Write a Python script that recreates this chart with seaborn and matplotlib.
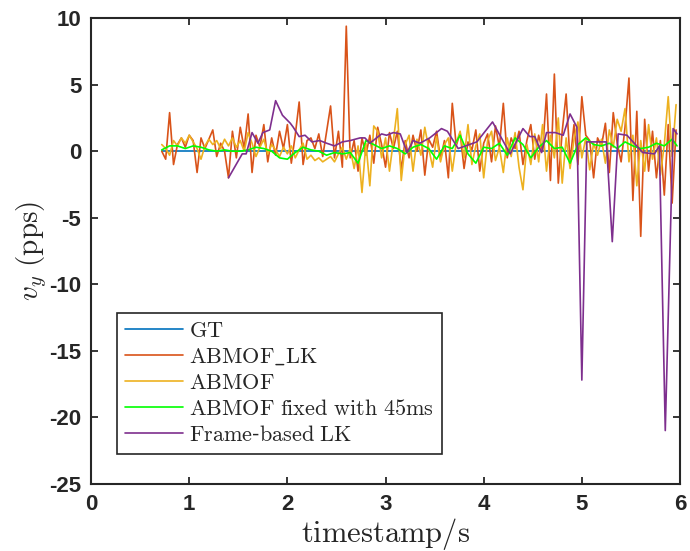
import matplotlib
matplotlib.use("Agg")
import matplotlib.pyplot as plt
import seaborn as sns
import pandas as pd

# ---------------- data ----------------
gt_t = [0.72, 5.97]
gt_v = [0.0, 0.0]

t_fast = [0.72, 0.76, 0.80, 0.84, 0.88, 0.92, 0.96, 1.00, 1.04, 1.08, 1.12, 1.16,
          1.20, 1.24, 1.28, 1.32, 1.36, 1.40, 1.44, 1.48, 1.52, 1.56, 1.60, 1.64,
          1.68, 1.72, 1.76, 1.80, 1.84, 1.88, 1.92, 1.96, 2.00, 2.04, 2.08, 2.12,
          2.16, 2.20, 2.24, 2.28, 2.32, 2.36, 2.40, 2.44, 2.48, 2.52, 2.56, 2.60,
          2.64, 2.68, 2.72, 2.76, 2.80, 2.84, 2.88, 2.92, 2.96, 3.00, 3.04, 3.08,
          3.12, 3.16, 3.20, 3.24, 3.28, 3.32, 3.36, 3.40, 3.44, 3.48, 3.52, 3.56,
          3.60, 3.64, 3.68, 3.72, 3.76, 3.80, 3.84, 3.88, 3.92, 3.96, 4.00, 4.04,
          4.08, 4.12, 4.16, 4.20, 4.24, 4.28, 4.32, 4.36, 4.40, 4.44, 4.48, 4.52,
          4.56, 4.60, 4.64, 4.68, 4.72, 4.76, 4.80, 4.84, 4.88, 4.92, 4.96, 5.00,
          5.04, 5.08, 5.12, 5.16, 5.20, 5.24, 5.28, 5.32, 5.36, 5.40, 5.44, 5.48,
          5.52, 5.56, 5.60, 5.64, 5.68, 5.72, 5.76, 5.80, 5.84, 5.88, 5.92, 5.96]

abmof_lk = [0.0, -0.6, 2.9, -1.0, 0.5, 1.0, 0.3, 1.2, 0.8, -1.6, 1.0, 0.2,
            0.9, 1.6, -0.4, 0.6, 0.0, -2.0, 1.5, -0.5, 1.8, 0.2, 2.8, -1.6,
            1.2, 0.3, 2.0, -0.8, 1.0, -0.3, 1.5, 0.2, 2.0, -0.9, 1.2, 3.7,
            -1.0, 0.8, 1.0, 0.2, 1.3, -0.4, 1.5, 3.4, -0.5, 1.5, -1.2, 9.4,
            -0.5, 0.8, -1.5, 1.0, -0.3, 1.2, -0.9, 1.8, 0.5, -1.2, 1.4, 0.2,
            1.5, -1.4, 0.8, -0.5, 1.2, 0.0, 1.6, -1.8, 0.9, 0.3, 1.5, -0.6,
            0.8, -2.0, 3.6, 0.4, 1.4, -1.3, 0.7, 0.1, 1.6, -1.5, 0.6, 1.3,
            -0.8, 1.9, 0.3, 3.6, -0.5, 1.0, 0.2, 1.5, -1.0, 0.8, 2.0, -0.6,
            1.2, 0.0, 4.3, -2.2, 5.8, -2.4, 1.5, 4.3, -0.8, 2.0, -1.0, 4.1,
            1.2, 0.8, -2.0, 1.0, 0.4, 2.1, -1.6, 2.9, 0.6, -0.8, 1.8, 5.5,
            -3.7, 3.0, -6.4, 2.4, -1.5, 1.5, -2.0, 0.8, -3.3, 2.0, -3.9, 1.6]

abmof = [0.5, 0.2, -0.3, 0.8, 0.4, 1.0, 0.6, 1.2, 0.7, 0.2, -0.6, 0.4,
         0.9, 0.5, 0.8, 0.2, 0.9, 0.4, 1.0, 0.3, 0.8, 0.0, 1.4, 0.6,
         -0.4, 0.3, 0.9, -0.2, 0.5, 0.1, -0.4, 0.3, -0.2, 0.4, -0.5, 0.1,
         0.6, -0.6, -0.3, -0.7, -0.5, -0.8, -0.6, -0.4, -0.8, -0.2, 0.3, -0.6,
         0.2, -1.3, 0.4, -3.1, 0.6, -2.6, 1.9, 1.5, -0.5, 1.0, -1.5, 0.8,
         3.2, -2.2, 0.5, 1.2, -1.5, 0.9, -0.3, 1.8, 0.2, -1.2, 1.1, -0.8,
         0.5, 1.0, -1.5, 0.6, 1.5, -0.5, 2.0, -1.0, 0.4, 1.3, -2.0, 0.8,
         1.5, -0.7, 0.3, -1.6, 1.0, -0.4, 1.4, -1.2, -2.9, 0.5, -1.0, 1.3,
         -0.8, 2.0, -1.5, 1.2, -0.5, 2.5, -2.4, 1.0, -1.3, 0.9, 2.2, -0.5,
         1.0, -1.4, 0.6, -0.3, 0.9, -0.9, 1.6, 0.3, 2.4, 1.5, 3.2, -0.8,
         1.2, -2.6, 0.8, -1.5, 2.0, -0.6, 1.0, -1.8, 0.5, 4.1, -0.4, 3.5]

t_fixed = [0.72, 0.80, 0.88, 0.96, 1.04, 1.12, 1.20, 1.28, 1.36, 1.44, 1.52, 1.60,
           1.68, 1.76, 1.84, 1.92, 2.00, 2.08, 2.16, 2.24, 2.32, 2.40, 2.48, 2.56,
           2.64, 2.72, 2.80, 2.88, 2.96, 3.04, 3.12, 3.20, 3.28, 3.36, 3.44, 3.52,
           3.60, 3.68, 3.76, 3.84, 3.92, 4.00, 4.08, 4.16, 4.24, 4.32, 4.40, 4.48,
           4.56, 4.64, 4.72, 4.80, 4.88, 4.96, 5.04, 5.12, 5.20, 5.28, 5.36, 5.44,
           5.52, 5.60, 5.68, 5.76, 5.84, 5.92, 5.97]
abmof_fixed = [0.1, 0.4, 0.4, 0.2, 0.4, 0.3, 0.1, 0.0, 0.1, 0.0, 0.0, 0.1,
               0.3, 0.2, 0.0, -0.5, -0.6, -0.1, 0.3, 0.1, 0.0, -0.3, -0.1, -0.2,
               -0.1, -0.9, 0.8, 0.5, 0.2, 0.4, 0.2, -0.2, 0.3, 0.5, 0.2, -0.6,
               0.4, 0.2, 1.2, -0.2, -0.9, 0.3, 0.2, 0.6, -0.3, 1.0, 0.5, -0.5,
               0.3, 0.8, 0.2, 0.3, -0.9, 0.5, 1.0, 0.5, 0.4, 0.6, 0.2, 0.7,
               0.4, 0.2, 0.3, 0.6, 0.4, 0.9, 0.4]

t_frame = [1.40, 1.54, 1.58, 1.64, 1.70, 1.75, 1.82, 1.88, 1.95, 2.03, 2.06, 2.12,
           2.18, 2.25, 2.33, 2.40, 2.48, 2.56, 2.64, 2.74, 2.79, 2.84, 2.96, 3.01,
           3.08, 3.15, 3.22, 3.28, 3.35, 3.45, 3.57, 3.63, 3.74, 3.93, 4.09, 4.27,
           4.40, 4.47, 4.52, 4.59, 4.64, 4.73, 4.81, 4.88, 4.95, 5.00, 5.05, 5.25,
           5.31, 5.37, 5.46, 5.62, 5.74, 5.79, 5.85, 5.93, 5.97]
frame_lk = [-2.0, -0.2, -0.2, 1.4, 0.6, 1.4, 1.6, 3.8, 2.7, 2.1, 1.8, 1.1,
            1.2, 0.7, 0.8, 0.6, 0.4, 0.7, 0.8, 1.0, 1.0, 0.6, 1.3, 1.2,
            1.4, 1.3, -0.1, 0.8, 0.6, 1.0, 1.7, 1.5, 0.2, 0.7, 2.2, -0.2,
            1.7, 1.1, 1.1, -0.1, 1.4, 1.4, 1.2, 2.8, 1.8, -17.2, 0.7, 0.7,
            -6.8, 1.3, 1.2, -0.1, -0.2, 0.4, -21.0, 1.7, 1.3]

series_names = ["GT", "ABMOF_LK", "ABMOF", "ABMOF fixed with 45ms", "Frame-based LK"]
series_colors = ["#0072BD", "#D95319", "#EDB120", "#00FF00", "#7E2F8E"]
legend_labels = [r"$\mathrm{GT}$", r"$\mathrm{ABMOF\_LK}$", r"$\mathrm{ABMOF}$",
                 r"$\mathrm{ABMOF\ fixed\ with\ 45ms}$", r"$\mathrm{Frame}$-$\mathrm{based\ LK}$"]

# ---------------- plot ----------------
sns.set_theme(style="white")
plt.rcParams["font.family"] = ["Liberation Sans", "DejaVu Sans"]
plt.rcParams["mathtext.fontset"] = "cm"

fig = plt.figure(figsize=(6.9, 5.51), dpi=100)
ax = fig.add_axes([0.132, 0.122, 0.8535, 0.845])

data = [(gt_t, gt_v), (t_fast, abmof_lk), (t_fast, abmof), (t_fixed, abmof_fixed), (t_frame, frame_lk)]
for (tt, vv), name, col, lab in zip(data, series_names, series_colors, legend_labels):
    df = pd.DataFrame({"t": tt, "v": vv})
    sns.lineplot(data=df, x="t", y="v", ax=ax, color=col, linewidth=1.2,
                 sort=False, estimator=None, label=lab)

ax.set_xlim(0, 6)
ax.set_ylim(-25, 10)
ax.set_xticks([0, 1, 2, 3, 4, 5, 6])
ax.set_yticks([-25, -20, -15, -10, -5, 0, 5, 10])
ax.set_xticklabels(["0", "1", "2", "3", "4", "5", "6"])
ax.set_yticklabels(["-25", "-20", "-15", "-10", "-5", "0", "5", "10"])
ax.tick_params(direction="in", length=5, width=1.3, top=True, right=True,
               bottom=True, left=True, labelsize=16, colors="#262626", pad=7)
for lbl in ax.get_xticklabels() + ax.get_yticklabels():
    lbl.set_fontweight("bold")
for sp in ax.spines.values():
    sp.set_color("#262626")
    sp.set_linewidth(1.5)

ax.set_xlabel(r"$\mathrm{timestamp/s}$", fontsize=22, labelpad=1)
ax.set_ylabel(r"$v_y\ \mathrm{(pps)}$", fontsize=21, labelpad=0)

leg = ax.legend(loc="lower left", bbox_to_anchor=(0.044, 0.064), borderaxespad=0,
                fontsize=16, frameon=True, fancybox=False, framealpha=1,
                edgecolor="#262626", handlelength=2.6, handletextpad=0.3,
                labelspacing=0.23, borderpad=0.35)
leg.get_frame().set_linewidth(1.2)

fig.savefig("out.png", dpi=100)
